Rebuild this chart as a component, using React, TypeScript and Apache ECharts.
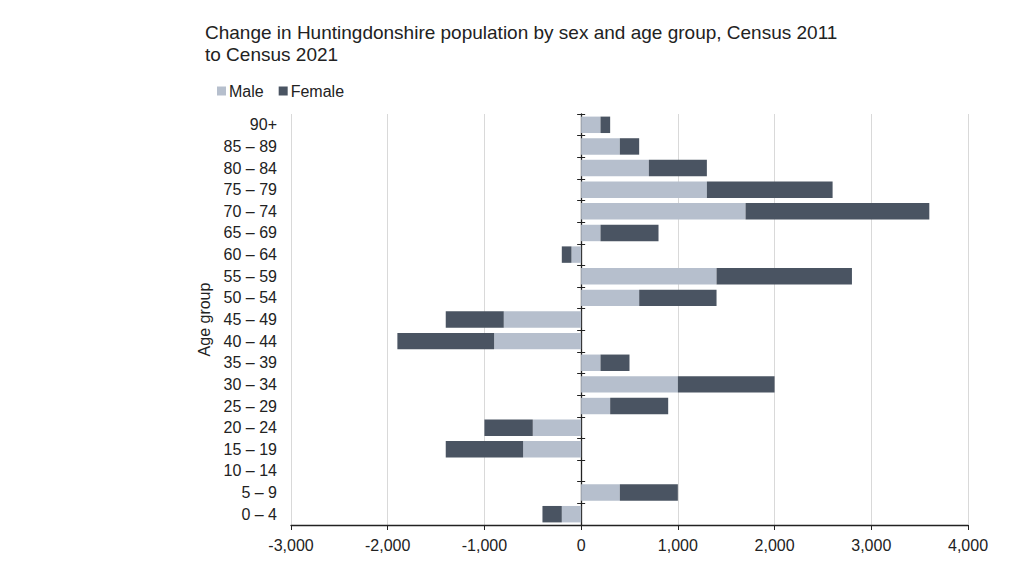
import React, { useEffect, useRef } from "react";
import * as echarts from "echarts";

const categories = [
  "0 – 4", "5 – 9", "10 – 14", "15 – 19", "20 – 24", "25 – 29", "30 – 34",
  "35 – 39", "40 – 44", "45 – 49", "50 – 54", "55 – 59", "60 – 64", "65 – 69",
  "70 – 74", "75 – 79", "80 – 84", "85 – 89", "90+",
];
const maleValues = [-200, 400, 0, -600, -500, 300, 1000, 200, -900, -800, 600, 1400, -100, 200, 1700, 1300, 700, 400, 200];
const femaleValues = [-200, 600, 0, -800, -500, 600, 1000, 300, -1000, -600, 800, 1400, -100, 600, 1900, 1300, 600, 200, 100];
const xTicks = { min: -3000, max: 4000, interval: 1000 };

const MALE = "#b6bfcd";
const FEMALE = "#4a5462";
const FONT = "Liberation Sans, Arial, sans-serif";

const GRID_LEFT = 291;
const GRID_RIGHT = 56;
const ZERO_OFFSET = -((1024 - GRID_LEFT - GRID_RIGHT) * (0 - xTicks.min)) / (xTicks.max - xTicks.min);

export default function App() {
  const ref = useRef<HTMLDivElement>(null);
  useEffect(() => {
    const chart = echarts.init(ref.current!, null, { renderer: "svg" });
    chart.setOption({
      animation: false,
      textStyle: { fontFamily: FONT },
      title: {
        text: "Change in Huntingdonshire population by sex and age group, Census 2011\nto Census 2021",
        left: 200,
        top: 16,
        textStyle: { fontFamily: FONT, fontSize: 19, fontWeight: "normal", color: "#222", lineHeight: 22 },
      },
      legend: {
        left: 212,
        top: 78,
        itemWidth: 9,
        itemHeight: 9,
        itemGap: 15,
        icon: "rect",
        textStyle: { fontFamily: FONT, fontSize: 16, color: "#222", padding: [0, 0, 0, -2] },
        data: ["Male", "Female"],
      },
      grid: { left: GRID_LEFT, right: GRID_RIGHT, top: 114, bottom: 51, containLabel: false },
      xAxis: {
        type: "value",
        min: xTicks.min,
        max: xTicks.max,
        interval: xTicks.interval,
        axisLine: { show: true, onZero: false, lineStyle: { color: "#222", width: 1.3 } },
        axisTick: { show: true, length: 5, lineStyle: { color: "#222" } },
        axisLabel: {
          fontFamily: FONT, fontSize: 16, color: "#222", margin: 12,
          formatter: (v: number) => v.toLocaleString("en-US"),
        },
        splitLine: { show: true, lineStyle: { color: "#d9d9d9", width: 1 } },
      },
      yAxis: [
        {
          type: "category",
          data: categories,
          position: "left",
          name: "Age group",
          nameLocation: "middle",
          nameGap: 78,
          nameTextStyle: { fontFamily: FONT, fontSize: 16, color: "#222" },
          axisLine: { show: false, onZero: false },
          axisTick: { show: false },
          axisLabel: { fontFamily: FONT, fontSize: 16, color: "#222", margin: 14 },
        },
        {
          type: "category",
          data: categories,
          position: "left",
          offset: ZERO_OFFSET,
          axisLine: { show: true, onZero: false, lineStyle: { color: "#222", width: 1.3 } },
          axisTick: { show: true, inside: false, length: 4, lineStyle: { color: "#222" } },
          axisLabel: { show: false },
        },
        {
          type: "category",
          data: categories,
          position: "left",
          offset: ZERO_OFFSET,
          axisLine: { show: false, onZero: false },
          axisTick: { show: true, inside: true, length: 4, lineStyle: { color: "#222" } },
          axisLabel: { show: false },
        },
      ],
      series: [
        {
          name: "Male",
          type: "bar",
          stack: "total",
          barCategoryGap: "24%",
          data: maleValues,
          itemStyle: { color: MALE },
        },
        {
          name: "Female",
          type: "bar",
          stack: "total",
          barCategoryGap: "24%",
          data: femaleValues,
          itemStyle: { color: FEMALE },
        },
      ],
    });
    return () => chart.dispose();
  }, []);
  return <div ref={ref} style={{ width: 1024, height: 576, margin: -8 }} />;
}
